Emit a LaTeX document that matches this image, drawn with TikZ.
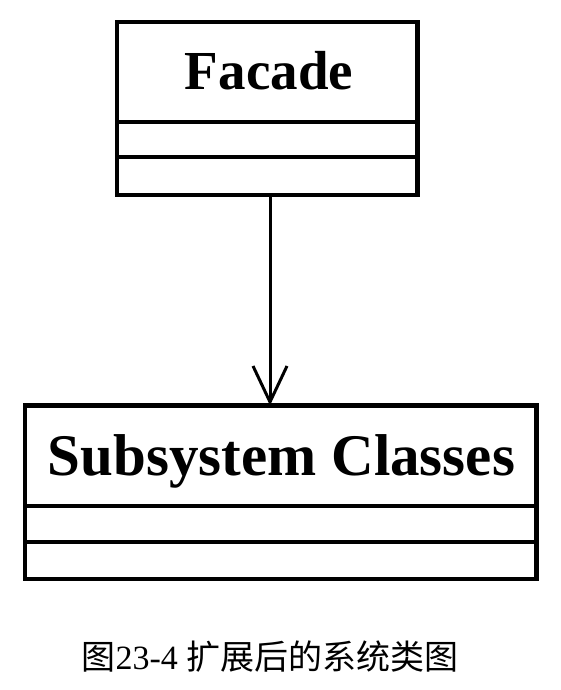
\documentclass[tikz,border=0pt]{standalone}
\usepackage{fontspec}
\setmainfont{Liberation Serif}
\newfontfamily\cjk{Noto Sans CJK SC}
\usetikzlibrary{arrows.meta}
\begin{document}
\begin{tikzpicture}[x=1pt,y=-1pt,
  classbox/.style={draw, rectangle, inner sep=0pt, outer sep=0pt, line join=miter},
  classname/.style={anchor=base, inner sep=0pt, font=\bfseries\fontsize{#1}{#1}\selectfont},
  compartment/.style={line width=#1},
  assoc/.style={line width=3pt, -{Straight Barb[length=36pt,width=34pt,line width=3pt]}}]
\useasboundingbox (0,0) rectangle (560,690);
\fill[white] (0,0) rectangle (560,690);

% Facade class
\node[classbox, line width=4.8pt, minimum width=300.5pt, minimum height=173pt] (facade) at (267.25,108.5) {};
\node[classname=55] (facadename) at (269,90) {Facade};
\draw[compartment=4pt] (facade.west |- 0,122) -- (facade.east |- 0,122);
\draw[compartment=4pt] (facade.west |- 0,157) -- (facade.east |- 0,157);

% Subsystem classes
\node[classbox, line width=4.8pt, minimum width=511.5pt, minimum height=173.5pt] (sub) at (280.75,492.25) {};
\node[classname=59] (subname) at (281.5,475) {Subsystem Classes};
\draw[compartment=3.6pt] (sub.west |- 0,506) -- (sub.east |- 0,506);
\draw[compartment=3.6pt] (sub.west |- 0,542) -- (sub.east |- 0,542);

% Association
\coordinate (ax) at (270,0);
\draw[assoc] (facade.south -| ax) -- (sub.north -| ax);

% Caption
\node[anchor=base, inner sep=0pt, font=\fontsize{34}{34}\selectfont] (caption) at (270,669)
  {{\cjk 图}23-4 {\cjk 扩展后的系统类图}};
\end{tikzpicture}
\end{document}
